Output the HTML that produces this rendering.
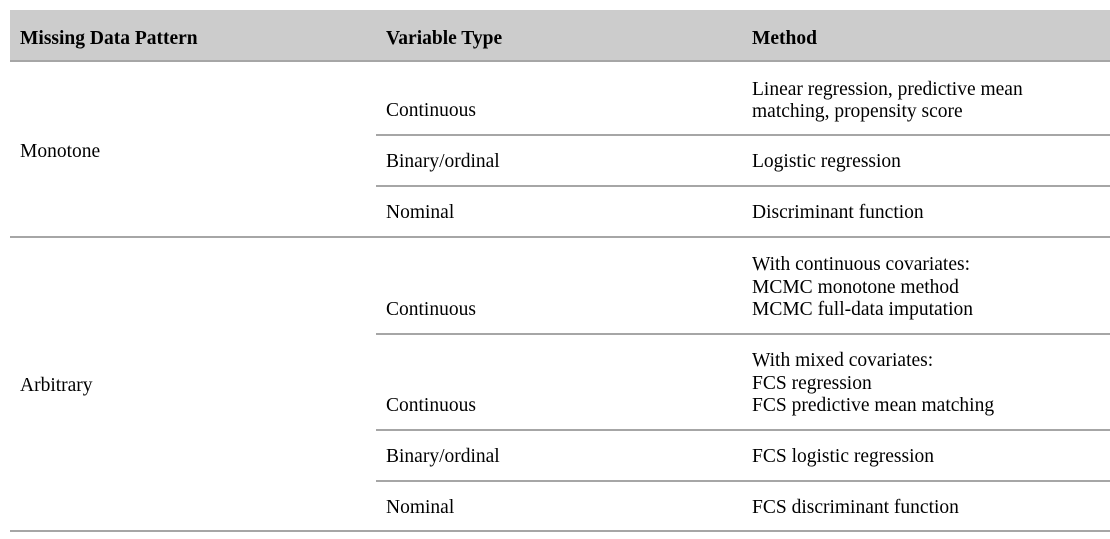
<!DOCTYPE html>
<html><head><meta charset="utf-8"><style>
body{margin:0;width:1110px;height:539px;background:#fff;position:relative;overflow:hidden;font-family:"Liberation Serif",serif;font-size:19.5px;color:#000}
.t{position:absolute;line-height:22px;white-space:nowrap}
.b{font-weight:bold}
.h{position:absolute;height:2px;background:#a6a6a6}
#hdr{position:absolute;left:10px;top:10px;width:1100px;height:51px;background:#cccccc}
</style></head><body>
<div id="hdr"></div>
<div class="t b" style="left:20px;top:28px">Missing Data Pattern</div>
<div class="t b" style="left:386px;top:28px">Variable Type</div>
<div class="t b" style="left:752px;top:28px">Method</div>
<div class="h" style="left:10px;top:60px;width:1100px"></div>

<div class="t" style="left:20px;top:141px">Monotone</div>
<div class="t" style="left:386px;top:100px">Continuous</div>
<div class="t" style="left:752px;top:79px">Linear regression, predictive mean<br>matching, propensity score</div>
<div class="h" style="left:376px;top:134px;width:734px"></div>
<div class="t" style="left:386px;top:151px">Binary/ordinal</div>
<div class="t" style="left:752px;top:151px">Logistic regression</div>
<div class="h" style="left:376px;top:185px;width:734px"></div>
<div class="t" style="left:386px;top:202px">Nominal</div>
<div class="t" style="left:752px;top:202px">Discriminant function</div>
<div class="h" style="left:10px;top:236px;width:1100px"></div>

<div class="t" style="left:20px;top:375px">Arbitrary</div>
<div class="t" style="left:386px;top:299px">Continuous</div>
<div class="t" style="left:752px;top:254px;line-height:22.5px">With continuous covariates:<br>MCMC monotone method<br>MCMC full-data imputation</div>
<div class="h" style="left:376px;top:333px;width:734px"></div>
<div class="t" style="left:386px;top:395px">Continuous</div>
<div class="t" style="left:752px;top:350px;line-height:22.5px">With mixed covariates:<br>FCS regression<br>FCS predictive mean matching</div>
<div class="h" style="left:376px;top:429px;width:734px"></div>
<div class="t" style="left:386px;top:446px">Binary/ordinal</div>
<div class="t" style="left:752px;top:446px">FCS logistic regression</div>
<div class="h" style="left:376px;top:480px;width:734px"></div>
<div class="t" style="left:386px;top:497px">Nominal</div>
<div class="t" style="left:752px;top:497px">FCS discriminant function</div>
<div class="h" style="left:10px;top:530px;width:1100px"></div>
</body></html>
